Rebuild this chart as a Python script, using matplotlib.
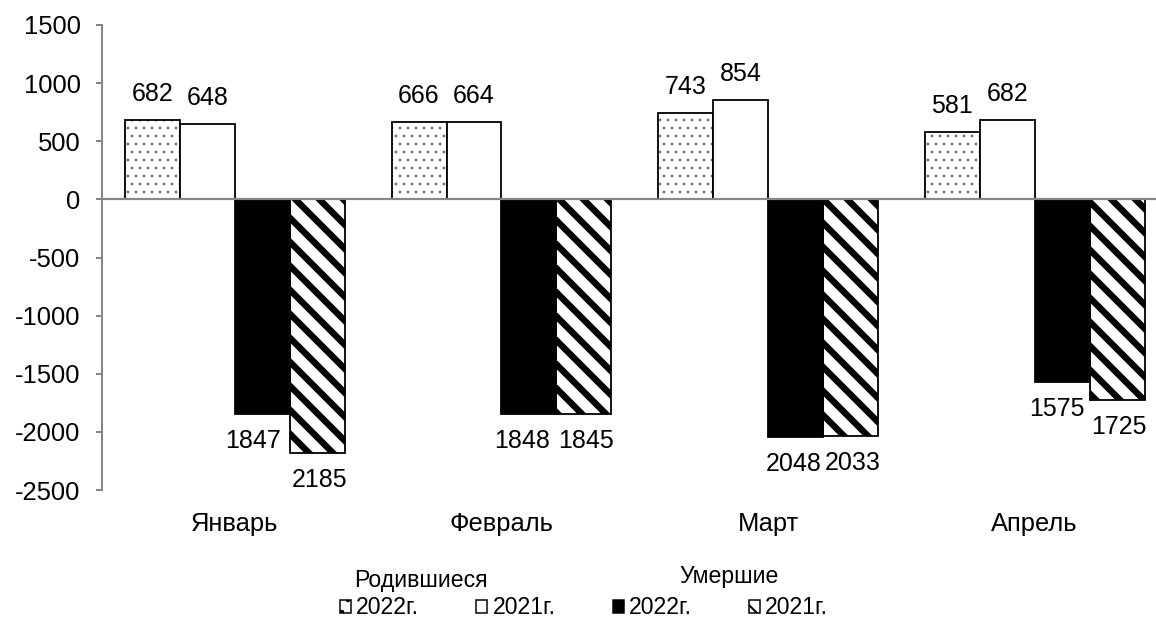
import matplotlib
matplotlib.use('Agg')
import matplotlib.pyplot as plt
from matplotlib.patches import Patch
import numpy as np

# data
months = ['Январь', 'Февраль', 'Март', 'Апрель']
born_2022 = [682, 666, 743, 581]
born_2021 = [648, 664, 854, 682]
died_2022 = [1847, 1848, 2048, 1575]
died_2021 = [2185, 1845, 2033, 1725]
yticks = [1500, 1000, 500, 0, -500, -1000, -1500, -2000, -2500]
legend_labels = ['2022г.', '2021г.', '2022г.', '2021г.']
group_titles = ['Родившиеся', 'Умершие']

# small horizontal nudges (px) of the died-2022 labels, as in the original
nudge_px = [-9, -7, -2, -5]

# higher dpi so the hatch tiles are as coarse as in the original
DPI = 144
W, H = 1156, 619


def pt(px):
    '''pixels -> points at the chosen dpi'''
    return px * 72 / DPI


plt.rcParams['font.family'] = ['Liberation Sans', 'DejaVu Sans']

GRAY = '#868686'
FS = pt(25.5)   # tick labels
VFS = pt(25)    # value labels
LFS = pt(23)    # legend

fig = plt.figure(figsize=(W / DPI, H / DPI), dpi=DPI)
# axes extends a bit beyond the right edge like the original
ax = fig.add_axes([101.5 / W, 1 - 490 / H, (1168 - 101.5) / W, 465 / H])

x = np.arange(len(months))
bw = 0.206
offsets = np.array([-1.5, -0.5, 0.5, 1.5]) * bw
edge_lw = pt(1.8)


def set_hlw(bars, lw):
    for b in bars:
        if hasattr(b, 'set_hatch_linewidth'):
            b.set_hatch_linewidth(lw)


# born 2022: gray dots on white
with plt.rc_context({'hatch.linewidth': pt(1.2)}):
    b = ax.bar(x + offsets[0], born_2022, bw, color='white', edgecolor='#6f6f6f', hatch='...', linewidth=0, zorder=2)
    set_hlw(b, pt(1.2))
ax.bar(x + offsets[0], born_2022, bw, fill=False, edgecolor='black', linewidth=edge_lw, zorder=3)
# born 2021: white
ax.bar(x + offsets[1], born_2021, bw, color='white', edgecolor='black', linewidth=edge_lw, zorder=3)
# died 2022: black
ax.bar(x + offsets[2], -np.array(died_2022), bw, color='black', edgecolor='black', linewidth=edge_lw, zorder=3)
# died 2021: thick diagonal stripes
with plt.rc_context({'hatch.linewidth': pt(6.5)}):
    b = ax.bar(x + offsets[3], -np.array(died_2021), bw, color='white', edgecolor='black', hatch='\\\\', linewidth=0, zorder=2)
    set_hlw(b, pt(6.5))
ax.bar(x + offsets[3], -np.array(died_2021), bw, fill=False, edgecolor='black', linewidth=edge_lw, zorder=3)

# value labels
for i in range(len(months)):
    for off, v in [(offsets[0], born_2022[i]), (offsets[1], born_2021[i])]:
        ax.annotate(str(v), (x[i] + off, v), xytext=(0, 26), textcoords='offset pixels',
                    ha='center', va='center', fontsize=VFS)
    ax.annotate(str(died_2022[i]), (x[i] + offsets[2], -died_2022[i]), xytext=(nudge_px[i], -27),
                textcoords='offset pixels', ha='center', va='center', fontsize=VFS)
    ax.annotate(str(died_2021[i]), (x[i] + offsets[3], -died_2021[i]), xytext=(2, -27),
                textcoords='offset pixels', ha='center', va='center', fontsize=VFS)

# axes formatting
ax.set_xlim(-0.5, len(months) - 0.5)
ax.set_ylim(-2500, 1500)
ax.set_yticks(yticks)
ax.set_yticklabels([str(t) for t in yticks], fontsize=FS)
ax.set_xticks(x)
ax.set_xticklabels(months, fontsize=FS)
ax.tick_params(axis='x', length=0, pad=pt(22))
ax.tick_params(axis='y', length=pt(6), color=GRAY, width=pt(2), pad=pt(15))
for s in ['top', 'right', 'bottom']:
    ax.spines[s].set_visible(False)
ax.spines['left'].set_color(GRAY)
ax.spines['left'].set_linewidth(pt(2))
ax.axhline(0, color=GRAY, linewidth=pt(2.2), zorder=4, clip_on=False)

# legend
handles = [
    Patch(facecolor='white', edgecolor='black', hatch='..', linewidth=pt(1.5)),
    Patch(facecolor='white', edgecolor='black', linewidth=pt(1.5)),
    Patch(facecolor='black', edgecolor='black', linewidth=pt(1.5)),
    Patch(facecolor='white', edgecolor='black', hatch='\\\\\\', linewidth=pt(1.5)),
]
fig.legend(handles, legend_labels, ncol=4, loc='center', bbox_to_anchor=(584 / W, 1 - 608 / H),
           frameon=False, fontsize=LFS, handlelength=0.48, handleheight=0.48,
           handletextpad=0.22, columnspacing=2.48, borderpad=0, borderaxespad=0)
fig.text(421 / W, 1 - 580 / H, group_titles[0], ha='center', va='center', fontsize=LFS)
fig.text(729 / W, 1 - 577 / H, group_titles[1], ha='center', va='center', fontsize=LFS)

fig.savefig('out.png', dpi=DPI)
